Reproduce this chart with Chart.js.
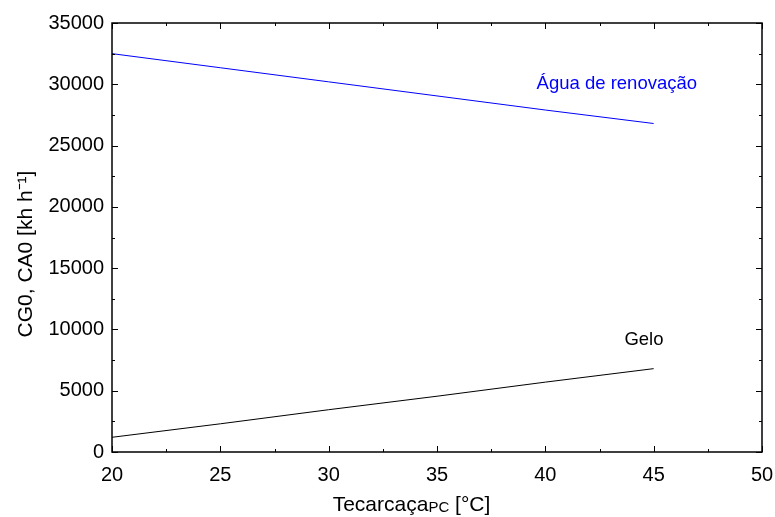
<!DOCTYPE html>
<html>
<head>
<meta charset="utf-8">
<script src="https://cdn.jsdelivr.net/npm/chart.js@4"></script>
<style>
  html, body { margin: 0; padding: 0; background: #fff; }
  #wrap { width: 775px; height: 517px; }
</style>
</head>
<body>
<div id="wrap"><canvas id="chartCG"></canvas></div>
<script>
// temperatura da carcaça [°C]
const tempX = [20, 25, 30, 35, 40, 45];
const aguaY = [32500, 31350, 30200, 29050, 27900, 26800];
const geloY = [1200, 2300, 3450, 4550, 5700, 6800];

const xTicks = [20, 25, 30, 35, 40, 45, 50];
const yTicks = [0, 5000, 10000, 15000, 20000, 25000, 30000, 35000];

const FONT = '"Liberation Sans", Arial, Helvetica, sans-serif';

// --- ticks para dentro, moldura e textos ---
const framePlugin = {
    id: 'frame',
    afterDraw(chart) {
        const { ctx, chartArea: a, scales: { x, y } } = chart;
        ctx.save();
        ctx.strokeStyle = '#000';
        ctx.lineWidth = 1;
        ctx.beginPath();
        for (let v = 20; v <= 50; v += 2.5) {
            const px = Math.round(x.getPixelForValue(v)) + 0.5;
            const len = v % 5 === 0 ? 6 : 3;
            ctx.moveTo(px, a.bottom); ctx.lineTo(px, a.bottom - len);
            ctx.moveTo(px, a.top); ctx.lineTo(px, a.top + len);
        }
        for (let v = 0; v <= 35000; v += 2500) {
            const py = Math.round(y.getPixelForValue(v)) + 0.5;
            const len = v % 5000 === 0 ? 6 : 3;
            ctx.moveTo(a.left, py); ctx.lineTo(a.left + len, py);
            ctx.moveTo(a.right, py); ctx.lineTo(a.right - len, py);
        }
        ctx.stroke();
        ctx.lineWidth = 1.5;
        ctx.strokeRect(a.left, a.top, a.right - a.left, a.bottom - a.top);

        // anotações
        ctx.font = '18.5px ' + FONT;
        ctx.textAlign = 'center';
        ctx.textBaseline = 'middle';
        ctx.fillStyle = '#0000ff';
        ctx.fillText('Água de renovação', x.getPixelForValue(43.3), y.getPixelForValue(30000));
        ctx.fillStyle = '#000';
        ctx.fillText('Gelo', x.getPixelForValue(44.55), y.getPixelForValue(9150));

        // título do eixo x com subscrito
        const cx = 411.5;
        const base = 511;
        ctx.textBaseline = 'alphabetic';
        ctx.textAlign = 'left';
        const p1 = 'Tecarcaça', p2 = 'PC', p3 = ' [°C]';
        ctx.font = '21px ' + FONT;
        const w1 = ctx.measureText(p1).width, w3 = ctx.measureText(p3).width;
        ctx.font = '15px ' + FONT;
        const w2 = ctx.measureText(p2).width;
        let sx = cx - (w1 + w2 + w3) / 2;
        ctx.font = '21px ' + FONT;
        ctx.fillText(p1, sx, base);
        ctx.font = '15px ' + FONT;
        ctx.fillText(p2, sx + w1, base + 1);
        ctx.font = '21px ' + FONT;
        ctx.fillText(p3, sx + w1 + w2, base);

        // título do eixo y
        ctx.translate(26, 254);
        ctx.rotate(-Math.PI / 2);
        ctx.textAlign = 'center';
        ctx.textBaseline = 'middle';
        ctx.fillText('CG0, CA0 [kh h⁻¹]', 0, 0);
        ctx.restore();
    }
};

new Chart(document.getElementById('chartCG'), {
    type: 'scatter',
    data: {
        datasets: [{
            label: 'Água de renovação',
            data: tempX.map((t, i) => ({ x: t, y: aguaY[i] })),
            showLine: true,
            borderColor: '#0000ff',
            borderWidth: 1,
            pointRadius: 0
        }, {
            label: 'Gelo',
            data: tempX.map((t, i) => ({ x: t, y: geloY[i] })),
            showLine: true,
            borderColor: '#000000',
            borderWidth: 1,
            pointRadius: 0
        }]
    },
    options: {
        responsive: true,
        maintainAspectRatio: false,
        animation: false,
        layout: { padding: { top: 23, right: 13, left: 0, bottom: 0 } },
        plugins: { legend: { display: false }, tooltip: { enabled: false } },
        scales: {
            x: {
                type: 'linear', min: 20, max: 50,
                afterBuildTicks: s => { s.ticks = xTicks.map(v => ({ value: v })); },
                afterFit: s => { s.height = 65; s.paddingLeft = 0; s.paddingRight = 0; },
                grid: { display: false },
                border: { display: false },
                ticks: { color: '#000', font: { family: FONT, size: 20 }, padding: 3, maxRotation: 0 }
            },
            y: {
                type: 'linear', min: 0, max: 35000,
                afterBuildTicks: s => { s.ticks = yTicks.map(v => ({ value: v })); },
                afterFit: s => { s.width = 112; s.paddingTop = 0; s.paddingBottom = 0; },
                grid: { display: false },
                border: { display: false },
                ticks: { color: '#000', font: { family: FONT, size: 20 }, padding: 0,
                         callback: v => String(v) }
            }
        }
    },
    plugins: [framePlugin]
});
</script>
</body>
</html>
